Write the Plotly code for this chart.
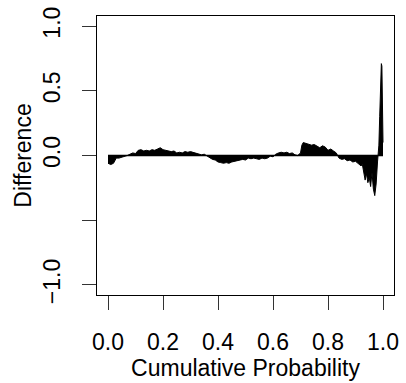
import plotly.graph_objects as go

# cumulative probability positions and differences
prob = [0.00, 0.01, 0.02, 0.03, 0.04, 0.05, 0.06, 0.07, 0.08, 0.09,
        0.10, 0.11, 0.12, 0.13, 0.14, 0.15, 0.16, 0.17, 0.18, 0.19,
        0.20, 0.21, 0.22, 0.23, 0.24, 0.25, 0.26, 0.27, 0.28, 0.29,
        0.30, 0.31, 0.32, 0.33, 0.34, 0.35, 0.36, 0.37, 0.38, 0.39,
        0.40, 0.41, 0.42, 0.43, 0.44, 0.45, 0.46, 0.47, 0.48, 0.49,
        0.50, 0.51, 0.52, 0.53, 0.54, 0.55, 0.56, 0.57, 0.58, 0.59,
        0.60, 0.61, 0.62, 0.63, 0.64, 0.65, 0.66, 0.67, 0.68, 0.69,
        0.70, 0.705, 0.71, 0.72, 0.73, 0.74, 0.75, 0.76, 0.77, 0.78, 0.79,
        0.80, 0.81, 0.82, 0.83, 0.84, 0.85, 0.86, 0.87, 0.88, 0.89,
        0.90, 0.91, 0.92, 0.925, 0.930, 0.935, 0.940, 0.945, 0.950, 0.955,
        0.960, 0.965, 0.970, 0.975, 0.980, 0.985, 0.988, 0.991, 0.994, 0.996,
        0.998, 1.000]
diff = [-0.06, -0.07, -0.06, -0.02, -0.02, -0.015, -0.01, 0.0, 0.01, 0.02,
        0.015, 0.04, 0.045, 0.035, 0.04, 0.035, 0.045, 0.04, 0.05, 0.06,
        0.045, 0.04, 0.035, 0.03, 0.035, 0.02, 0.025, 0.02, 0.03, 0.025,
        0.03, 0.025, 0.02, 0.01, 0.005, 0.01, -0.005, -0.02, -0.03, -0.035,
        -0.05, -0.055, -0.06, -0.055, -0.06, -0.05, -0.045, -0.04, -0.04, -0.03,
        -0.035, -0.02, -0.025, -0.02, -0.025, -0.03, -0.02, -0.025, -0.02, -0.005,
        -0.01, 0.01, 0.02, 0.025, 0.02, 0.025, 0.015, 0.02, 0.005, 0.0,
        0.02, 0.08, 0.10, 0.095, 0.09, 0.08, 0.085, 0.07, 0.06, 0.075, 0.065,
        0.04, 0.05, 0.035, 0.02, -0.02, -0.03, -0.025, -0.04, -0.035, -0.05,
        -0.045, -0.06, -0.08, -0.07, -0.12, -0.19, -0.14, -0.21, -0.17, -0.24,
        -0.13, -0.26, -0.31, -0.22, -0.05, 0.08, 0.30, 0.55, 0.71, 0.69,
        0.45, 0.10]

x_ticks = [0.0, 0.2, 0.4, 0.6, 0.8, 1.0]
x_labels = ["0.0", "0.2", "0.4", "0.6", "0.8", "1.0"]
y_ticks = [-1.0, -0.5, 0.0, 0.5, 1.0]
y_labels = ["\u22121.0", "", "0.0", "0.5", "1.0"]
baseline_x = [0.0, 1.0]
baseline_y = [0.0, 0.0]

FONT = "Liberation Sans, Arial, sans-serif"

fig = go.Figure()
fig.add_trace(go.Scatter(
    x=prob, y=diff, mode="lines", line=dict(color="black", width=1, shape="linear"),
    fill="tozeroy", fillcolor="black", hoverinfo="skip", showlegend=False))
fig.add_trace(go.Scatter(
    x=baseline_x, y=baseline_y, mode="lines", line=dict(color="black", width=1.5),
    hoverinfo="skip", showlegend=False))

fig.update_layout(
    width=406, height=383,
    margin=dict(l=97, r=7, t=15, b=88),
    paper_bgcolor="white", plot_bgcolor="white",
    font=dict(family=FONT, size=23, color="black"),
    xaxis=dict(range=[-0.04, 1.04], tickvals=x_ticks, ticktext=x_labels,
               showgrid=False, zeroline=False, showline=True, mirror=True,
               linecolor="black", linewidth=1, ticks="outside", ticklen=14,
               tickcolor="#333", tickwidth=1, ticklabelstandoff=12,
               title=dict(text="Cumulative Probability", standoff=3,
                          font=dict(size=23))),
    yaxis=dict(range=[-1.078, 1.078], tickvals=y_ticks, ticktext=y_labels,
               tickangle=-90,
               showgrid=False, zeroline=False, showline=True, mirror=True,
               linecolor="black", linewidth=1, ticks="outside", ticklen=14,
               tickcolor="#333", tickwidth=1, ticklabelstandoff=13,
               title=dict(text="Difference", standoff=0, font=dict(size=23))),
)

fig.write_html("out.html")
